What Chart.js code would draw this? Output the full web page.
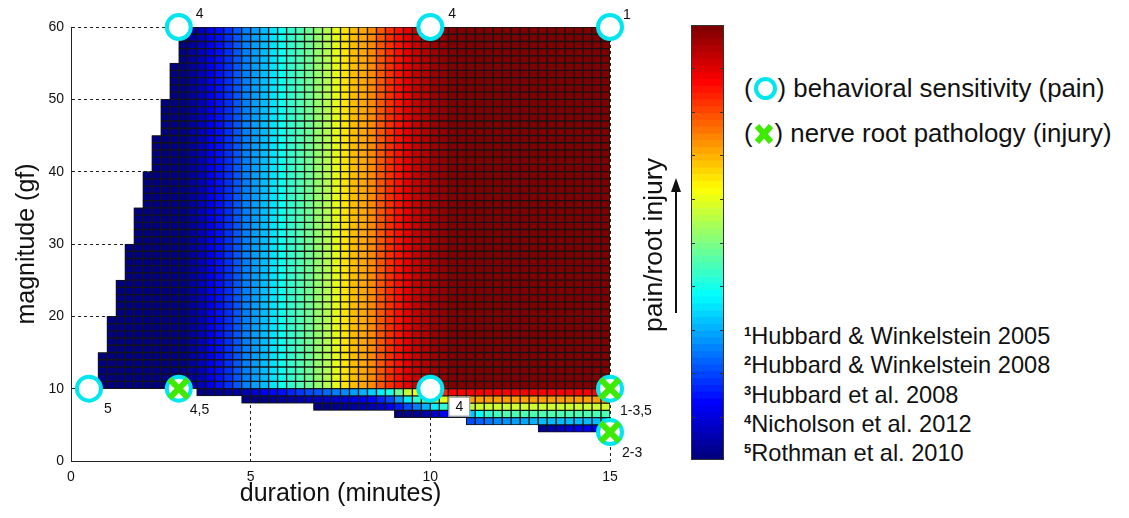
<!DOCTYPE html>
<html>
<head>
<meta charset="utf-8">
<script src="https://cdn.jsdelivr.net/npm/chart.js@4.4.1/dist/chart.umd.min.js"></script>
<style>
  body { margin: 0; background: #fff; font-family: "Liberation Sans", Arial, sans-serif; }
  #wrap { position: relative; width: 1129px; height: 518px; overflow: hidden; }
  #heat { position: absolute; left: 0; top: 0; }
  #cbar { position: absolute; left: 691px; top: 25px; }
  #sideTitle { position: absolute; left: 653px; top: 245px; transform: translate(-50%, -50%) rotate(-90deg);
               font-size: 26.5px; white-space: nowrap; color: #111; }
  #arrow { position: absolute; left: 666px; top: 176px; }
  .legend { position: absolute; left: 744px; font-size: 25.8px; line-height: 30px; color: #111; white-space: nowrap; }
  .ring { display: inline-block; width: 15px; height: 15px; border: 4px solid #00e6f0; border-radius: 50%;
          vertical-align: -3px; margin: 0 1px; }
  .xmark { vertical-align: -3px; margin: 0 1px; }
  .refs { position: absolute; left: 744px; top: 322px; font-size: 23.6px; line-height: 29.3px; color: #111; white-space: nowrap; }
  .refs sup { font-size: 13px; line-height: 0; vertical-align: 8px; font-weight: bold; }
</style>
</head>
<body>
<div id="wrap">
  <canvas id="heat" width="660" height="518"></canvas>
  <div id="sideTitle">pain/root injury</div>
  <svg id="arrow" width="20" height="140">
    <line x1="10" y1="12" x2="10" y2="137" stroke="#111" stroke-width="2"/>
    <polygon points="10,2 5,16 15,16" fill="#111"/>
  </svg>
  <canvas id="cbar" width="33" height="435"></canvas>
  <div class="legend" style="top:73px">(<span class="ring"></span>) behavioral sensitivity (pain)</div>
  <div class="legend" style="top:118px">(<svg class="xmark" width="20" height="22"><line x1="3" y1="3" x2="17" y2="19" stroke="#3dea00" stroke-width="6"/><line x1="17" y1="3" x2="3" y2="19" stroke="#3dea00" stroke-width="6"/></svg>) nerve root pathology (injury)</div>
  <div class="refs">
    <sup>1</sup>Hubbard &amp; Winkelstein 2005<br>
    <sup>2</sup>Hubbard &amp; Winkelstein 2008<br>
    <sup>3</sup>Hubbard et al. 2008<br>
    <sup>4</sup>Nicholson et al. 2012<br>
    <sup>5</sup>Rothman et al. 2010
  </div>
</div>
<script>
// left edge (minutes) of each 0.25 min column
const colStarts = [0.75, 1, 1.25, 1.5, 1.75, 2, 2.25, 2.5, 2.75, 3, 3.25, 3.5, 3.75, 4, 4.25, 4.5, 4.75, 5, 5.25,
  5.5, 5.75, 6, 6.25, 6.5, 6.75, 7, 7.25, 7.5, 7.75, 8, 8.25, 8.5, 8.75, 9, 9.25, 9.5, 9.75, 10, 10.25, 10.5,
  10.75, 11, 11.25, 11.5, 11.75, 12, 12.25, 12.5, 12.75, 13, 13.25, 13.5, 13.75, 14, 14.25, 14.5, 14.75];

// level (0..1 of colour scale) for rows at 10 gf and above, per column
const upperLevel = [0, 0, 0, 0, 0, 0, 0, 0, 0, 0,
  0.03, 0.06, 0.1, 0.14, 0.17, 0.21, 0.25, 0.28, 0.31, 0.35,
  0.39, 0.42, 0.45, 0.48, 0.52, 0.55, 0.6, 0.65, 0.69, 0.71,
  0.74, 0.79, 0.83, 0.86, 0.9, 0.93, 0.95, 0.97, 0.98,
  1, 1, 1, 1, 1, 1, 1, 1, 1, 1, 1, 1, 1, 1, 1, 1, 1, 1];

// left staircase: band bottom (gf) and first column (minutes)
const stairMag = [10, 15, 20, 25, 30, 35, 40, 45, 50, 55];
const stairStart = [0.75, 1, 1.25, 1.5, 1.75, 2, 2.25, 2.5, 2.75, 3];

// rows below 10 gf
const lowMag = [9, 8, 7, 6, 5, 4];
const lowStart = [3.5, 4.75, 6.75, 9, 11, 13];
const lowLevels = [
  [0, 0, 0.01, 0.02, 0.03, 0.05, 0.08, 0.11, 0.13, 0.14,
   0.16, 0.18, 0.2, 0.21, 0.23, 0.25, 0.26, 0.28, 0.3, 0.33,
   0.36, 0.4, 0.48, 0.57, 0.63, 0.7, 0.78, 0.84,
   0.88, 0.88, 0.88, 0.88, 0.88, 0.88, 0.88, 0.88, 0.88, 0.88, 0.88, 0.88, 0.88, 0.88, 0.88, 0.88, 0.88, 0.88],
  [0, 0, 0, 0.01, 0.02, 0.03, 0.04, 0.05, 0.06, 0.07,
   0.08, 0.09, 0.1, 0.11, 0.13, 0.16, 0.2, 0.28, 0.36, 0.42,
   0.48, 0.55, 0.6, 0.65, 0.69,
   0.72, 0.72, 0.72, 0.72, 0.72, 0.72, 0.72, 0.72, 0.72, 0.72, 0.72, 0.72, 0.72, 0.72, 0.72, 0.72],
  [0, 0, 0.01, 0.02, 0.03, 0.04, 0.05, 0.07, 0.1, 0.15,
   0.2, 0.25, 0.3, 0.36, 0.42, 0.48, 0.53, 0.56,
   0.58, 0.58, 0.58, 0.58, 0.58, 0.58, 0.58, 0.58, 0.58, 0.58, 0.58, 0.58, 0.58, 0.58, 0.58],
  [0, 0.01, 0.02, 0.04, 0.07, 0.12, 0.18, 0.25, 0.32, 0.38, 0.42, 0.44,
   0.45, 0.45, 0.45, 0.45, 0.45, 0.45, 0.45, 0.45, 0.45, 0.45, 0.45, 0.45],
  [0.2, 0.22, 0.24, 0.26, 0.27, 0.28, 0.29, 0.3, 0.31, 0.31, 0.31, 0.31, 0.31, 0.31, 0.31, 0.31],
  [0.02, 0.04, 0.06, 0.08, 0.1, 0.11, 0.12, 0.13]
];

// study markers
const painX = [3, 10, 15, 0.5, 3, 10, 15, 15];
const painY = [60, 60, 60, 10, 10, 10, 10, 4];
const painLabel = ['4', '4', '1', '5', '4,5', '4', '1-3,5', '2-3'];
const injuryX = [3, 15, 15];
const injuryY = [10, 10, 4];

// label placement relative to marker: dx, dy, align, boxed
const labelPlace = [[17, -13, 'left'], [18, -13, 'left'], [13, -12, 'left'], [19, 20, 'center'],
  [11, 21, 'left'], [29, 18, 'center', true], [10, 22, 'left'], [12, 21, 'left']];

const cellW = 0.25;
const topMag = 60;
const FONT = '"Liberation Sans", Arial, sans-serif';

function jet(v) {
  const c = t => Math.round(255 * Math.max(0, Math.min(1, t)));
  return 'rgb(' + c(1.5 - Math.abs(4 * v - 3)) + ',' + c(1.5 - Math.abs(4 * v - 2)) + ',' + c(1.5 - Math.abs(4 * v - 1)) + ')';
}

function rowCells(mag, start, levels) {
  const i0 = colStarts.indexOf(start);
  return levels.map((v, k) => ({ x: colStarts[i0 + k] + cellW / 2, y: [mag, mag + 1], v: v }));
}

const rowSets = [];
for (let m = 10; m < topMag; m++) {
  let b = stairMag.length - 1;
  while (stairMag[b] > m) b--;
  const i0 = colStarts.indexOf(stairStart[b]);
  rowSets.push({ data: rowCells(m, stairStart[b], upperLevel.slice(i0)) });
}
lowMag.forEach((m, r) => rowSets.push({ data: rowCells(m, lowStart[r], lowLevels[r]) }));

// dark column behind the cells so the cell edges meet without light seams
const backing = colStarts.map(s => {
  let bottom = topMag, top = 0;
  stairMag.forEach((m, b) => {
    if (stairStart[b] <= s) {
      bottom = Math.min(bottom, m);
      top = Math.max(top, b + 1 < stairMag.length ? stairMag[b + 1] : topMag);
    }
  });
  lowMag.forEach((m, r) => { if (lowStart[r] <= s) bottom = Math.min(bottom, m); });
  return { x: s + cellW / 2, y: [bottom, top] };
});

const markerText = {
  id: 'markerText',
  afterDatasetsDraw(chart) {
    const { ctx, scales: { x, y } } = chart;
    ctx.save();
    ctx.font = '14px ' + FONT;
    ctx.textBaseline = 'middle';
    painLabel.forEach((t, i) => {
      const p = labelPlace[i];
      const px = x.getPixelForValue(painX[i]) + p[0];
      const py = y.getPixelForValue(painY[i]) + p[1];
      ctx.textAlign = p[2];
      if (p[3]) {
        const w = ctx.measureText(t).width + 14;
        ctx.fillStyle = '#fff';
        ctx.fillRect(px - w / 2, py - 10, w, 20);
        ctx.strokeStyle = '#888';
        ctx.lineWidth = 1;
        ctx.strokeRect(px - w / 2 + 0.5, py - 9.5, w - 1, 19);
      }
      ctx.fillStyle = '#111';
      ctx.fillText(t, px, py);
    });
    ctx.restore();
  }
};

new Chart(document.getElementById('heat'), {
  type: 'bar',
  data: {
    datasets: [
      { type: 'scatter', data: injuryX.map((v, i) => ({ x: v, y: injuryY[i] })), pointStyle: 'crossRot',
        pointRadius: 13, pointBorderWidth: 6, borderColor: '#3dea00', backgroundColor: '#3dea00', clip: false },
      { type: 'scatter', data: painX.map((v, i) => ({ x: v, y: painY[i] })), pointStyle: 'circle',
        pointRadius: 12, pointBorderWidth: 4, borderColor: '#00e6f0', backgroundColor: '#fff', clip: false },
      ...rowSets,
      { data: backing, backgroundColor: '#141414', borderWidth: 0, inflateAmount: 0 }
    ]
  },
  options: {
    responsive: false,
    animation: false,
    events: [],
    layout: { padding: { left: 0, right: 50, top: 27, bottom: 0 } },
    plugins: { legend: { display: false }, tooltip: { enabled: false } },
    datasets: {
      bar: {
        grouped: false, barPercentage: 1, categoryPercentage: 1,
        borderWidth: 1, borderSkipped: false, borderColor: '#141414',
        backgroundColor: c => c.raw ? jet(c.raw.v) : '#000'
      }
    },
    scales: {
      x: {
        type: 'linear', min: 0, max: 15, offset: false,
        ticks: { stepSize: 5, color: '#111', padding: 8, font: { family: FONT, size: 14 } },
        grid: { offset: false, drawTicks: false, color: c => c.tick && c.tick.value === 0 ? 'rgba(0,0,0,0)' : '#222' },
        border: { display: true, color: '#222', dash: [3, 3] },
        title: { display: true, text: 'duration (minutes)', color: '#111', font: { family: FONT, size: 25 }, padding: { bottom: 9 } },
        afterFit: s => { s.height = 57; }
      },
      y: {
        type: 'linear', min: 0, max: 60,
        ticks: { stepSize: 10, color: '#111', padding: 7, font: { family: FONT, size: 14 } },
        grid: { drawTicks: false, color: c => c.tick && c.tick.value === 0 ? 'rgba(0,0,0,0)' : '#222' },
        border: { display: true, color: '#222', dash: [3, 3] },
        title: { display: true, text: 'magnitude (gf)', color: '#111', font: { family: FONT, size: 25 }, padding: { top: 12 } },
        afterFit: s => { s.width = 71; }
      }
    }
  },
  plugins: [markerText]
});

// colour bar
const cbLevels = Array.from({ length: 64 }, (_, i) => i / 63);
const cbFrame = {
  id: 'cbFrame',
  afterDatasetsDraw(chart) {
    const { ctx, chartArea: a, scales: { y } } = chart;
    ctx.save();
    ctx.strokeStyle = '#333';
    ctx.lineWidth = 1;
    for (let k = 1; k < 10; k++) {
      const py = Math.round(y.getPixelForValue(k * 6.4)) + 0.5;
      ctx.beginPath();
      ctx.moveTo(a.left, py); ctx.lineTo(a.left + 4, py);
      ctx.moveTo(a.right - 4, py); ctx.lineTo(a.right, py);
      ctx.stroke();
    }
    ctx.strokeRect(a.left + 0.5, a.top + 0.5, a.right - a.left - 1, a.bottom - a.top - 1);
    ctx.restore();
  }
};
new Chart(document.getElementById('cbar'), {
  type: 'bar',
  data: { labels: [''], datasets: cbLevels.map(v => ({ data: [1], backgroundColor: jet(v), borderWidth: 0 })) },
  options: {
    responsive: false, animation: false, events: [],
    layout: { padding: 0 },
    plugins: { legend: { display: false }, tooltip: { enabled: false } },
    datasets: { bar: { barPercentage: 1, categoryPercentage: 1 } },
    scales: {
      x: { display: false, stacked: true },
      y: { display: false, stacked: true, min: 0, max: 64 }
    }
  },
  plugins: [cbFrame]
});
</script>
</body>
</html>
